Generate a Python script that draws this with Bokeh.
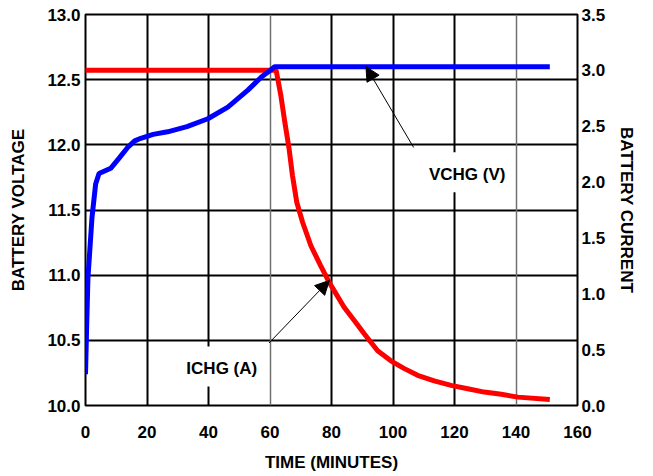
from bokeh.plotting import figure
from bokeh.models import (Range1d, LinearAxis, FixedTicker, PrintfTickFormatter,
                          Grid, Label, Arrow, NormalHead)
from bokeh.embed import file_html
from bokeh.resources import INLINE

# ---- data ----
time_v = [0, 0.4, 0.8, 1.4, 2.1, 3.3, 4.4, 8.2, 11, 13.7, 16, 18, 22, 26.7, 33, 39.8,
          46.3, 52.8, 57.2, 60, 61.5, 151]
vchg = [10.24, 10.63, 10.98, 11.19, 11.44, 11.70, 11.78, 11.82, 11.90, 11.98, 12.03,
        12.05, 12.08, 12.10, 12.14, 12.20, 12.29, 12.42, 12.52, 12.57, 12.60, 12.60]

time_i = [-0.5, 62, 63.5, 64.8, 66.2, 67.3, 68.7, 70.6, 73.3, 76.5, 79.3, 84.1, 87.4,
          90.7, 95, 99.3, 103.7, 108, 113.4, 118.9, 124.3, 129.7, 135.2, 140.6, 151]
ichg = [3.0, 3.0, 2.78, 2.54, 2.30, 2.06, 1.82, 1.64, 1.43, 1.25, 1.10, 0.88, 0.76,
        0.64, 0.49, 0.40, 0.33, 0.27, 0.22, 0.18, 0.15, 0.12, 0.10, 0.075, 0.054]

x_ticks = [0, 20, 40, 60, 80, 100, 120, 140, 160]
v_ticks = [10.0, 10.5, 11.0, 11.5, 12.0, 12.5, 13.0]
i_ticks = [0.0, 0.5, 1.0, 1.5, 2.0, 2.5, 3.0, 3.5]
grid_x_dark = [20, 40, 80, 100, 120]
grid_x_light = [60, 140]
grid_y = [10.5, 11.0, 11.5, 12.0, 12.5]

FONT = "Liberation Sans"

p = figure(width=653, height=476, output_backend="svg", toolbar_location=None,
           x_range=Range1d(0, 160), y_range=Range1d(10, 13),
           min_border_left=85, min_border_right=76, min_border_top=14, min_border_bottom=71)
p.extra_y_ranges = {"cur": Range1d(0, 3.5)}

p.outline_line_color = "black"
p.outline_line_width = 2
p.outline_line_alpha = 1

def style_axis(ax, ticks, fmt, label, standoff_label, standoff_ticks):
    ax.ticker = FixedTicker(ticks=ticks)
    ax.formatter = PrintfTickFormatter(format=fmt)
    ax.axis_label = label
    ax.axis_line_color = None
    ax.major_tick_line_color = None
    ax.minor_tick_line_color = None
    ax.major_tick_out = 0
    ax.major_tick_in = 0
    ax.minor_tick_out = 0
    ax.minor_tick_in = 0
    ax.major_label_text_font = FONT
    ax.major_label_text_font_style = "bold"
    ax.major_label_text_font_size = "17px"
    ax.major_label_text_color = "black"
    ax.axis_label_text_font = FONT
    ax.axis_label_text_font_style = "bold"
    ax.axis_label_text_font_size = "17px"
    ax.axis_label_text_color = "black"
    ax.axis_label_standoff = standoff_label
    ax.major_label_standoff = standoff_ticks

style_axis(p.xaxis[0], x_ticks, "%d", "TIME (MINUTES)", 12, 20)
style_axis(p.yaxis[0], v_ticks, "%.1f", "BATTERY VOLTAGE", 16, 5)
right = LinearAxis(y_range_name="cur")
style_axis(right, i_ticks, "%.1f", "BATTERY CURRENT", 9, 4)
p.add_layout(right, "right")

# grids
p.xgrid.ticker = FixedTicker(ticks=grid_x_dark)
p.xgrid.grid_line_color = "black"
p.xgrid.grid_line_width = 2
p.ygrid.ticker = FixedTicker(ticks=grid_y)
p.ygrid.grid_line_color = "black"
p.ygrid.grid_line_width = 2
g2 = Grid(dimension=0, ticker=FixedTicker(ticks=grid_x_light),
          grid_line_color="#707070", grid_line_width=1.5)
p.add_layout(g2)

# curves
p.line(time_i, ichg, y_range_name="cur", line_color="#ff0000", line_width=5)
p.line(time_v, vchg, line_color="#0000ff", line_width=5)

# labels
for txt, lx, ly in [("VCHG (V)", 123.3, 11.79), ("ICHG (A)", 43.5, 10.30)]:
    p.add_layout(Label(x=lx, y=ly, text=txt, text_align="center", text_baseline="middle",
                       text_font=FONT, text_font_style="bold", text_font_size="17px",
                       text_color="black", background_fill_color="white",
                       background_fill_alpha=1, padding=(13, 8, 13, 8)))

# arrows
for (x0, y0, x1, y1) in [(106.7, 11.98, 91.2, 12.60), (59.7, 10.48, 79.3, 10.96)]:
    p.add_layout(Arrow(x_start=x0, y_start=y0, x_end=x1, y_end=y1,
                       line_color="black", line_width=1,
                       end=NormalHead(size=14, fill_color="black", line_color="black")))

open("out.html", "w").write(file_html(p, INLINE))
